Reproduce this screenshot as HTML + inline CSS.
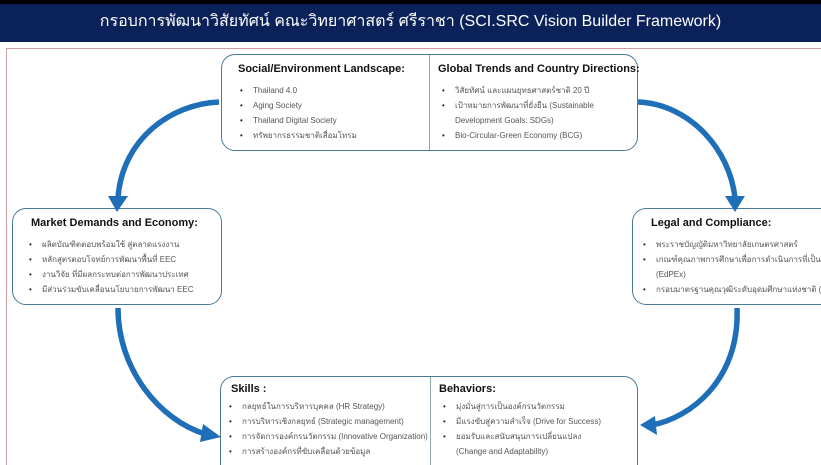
<!DOCTYPE html>
<html><head><meta charset="utf-8"><style>
*{margin:0;padding:0;box-sizing:border-box}
html,body{width:821px;height:465px;overflow:hidden}
body{background:#fff;position:relative;font-family:"Liberation Sans","DejaVu Sans",sans-serif;color:#333}
.top{position:absolute;left:0;top:0;width:821px;height:4px;background:#000}
.hdr{position:absolute;left:0;top:4px;width:821px;height:38px;background:#0b2159;color:#fff;font-size:16px;text-align:center;line-height:36px}
.frame{position:absolute;left:6px;top:48px;width:815px;height:417px;border:1px solid #c9a0a0;border-bottom:none;border-right:none}
.box{position:absolute;border:1.5px solid #4a7a9a;border-radius:14px;background:#fff}
.h{font-weight:bold;font-size:11px;color:#111;position:absolute;white-space:nowrap}
ul{position:absolute;list-style:none;font-size:8px;color:#555;line-height:15px;white-space:nowrap}
li:before{content:"•";color:#222;display:inline-block;width:13px}
li.c:before{content:"";width:13px}
.div{position:absolute;top:0;bottom:0;width:1px;background:#8aa}
svg{position:absolute;left:0;top:0}
</style></head><body>
<div class="top"></div>
<div class="hdr">กรอบการพัฒนาวิสัยทัศน์ คณะวิทยาศาสตร์ ศรีราชา (SCI.SRC Vision Builder Framework)</div>
<div class="frame"></div>

<div class="box" style="left:221px;top:54px;width:417px;height:97px">
 <div class="div" style="left:207px"></div>
 <div class="h" style="left:16px;top:8px">Social/Environment Landscape:</div>
 <ul style="left:18px;top:28px"><li>Thailand 4.0</li><li>Aging Society</li><li>Thailand Digital Society</li><li>ทรัพยากรธรรมชาติเสื่อมโทรม</li></ul>
 <div class="h" style="left:216px;top:8px">Global Trends and Country Directions:</div>
 <ul style="left:220px;top:28px"><li>วิสัยทัศน์ และแผนยุทธศาสตร์ชาติ 20 ปี</li><li>เป้าหมายการพัฒนาที่ยั่งยืน (Sustainable</li><li class="c">Development Goals: SDGs)</li><li>Bio-Circular-Green Economy (BCG)</li></ul>
</div>

<div class="box" style="left:12px;top:208px;width:210px;height:97px">
 <div class="h" style="left:18px;top:8px">Market Demands and Economy:</div>
 <ul style="left:16px;top:28px"><li>ผลิตบัณฑิตตอบพร้อมใช้ สู่ตลาดแรงงาน</li><li>หลักสูตรตอบโจทย์การพัฒนาพื้นที่ EEC</li><li>งานวิจัย ที่มีผลกระทบต่อการพัฒนาประเทศ</li><li>มีส่วนร่วมขับเคลื่อนนโยบายการพัฒนา EEC</li></ul>
</div>

<div class="box" style="left:632px;top:208px;width:189px;height:97px;border-right:none;border-radius:14px 0 0 14px;overflow:hidden">
 <div class="h" style="left:18px;top:8px">Legal and Compliance:</div>
 <ul style="left:10px;top:28px"><li>พระราชบัญญัติมหาวิทยาลัยเกษตรศาสตร์</li><li>เกณฑ์คุณภาพการศึกษาเพื่อการดำเนินการที่เป็นเลิศ</li><li class="c">(EdPEx)</li><li>กรอบมาตรฐานคุณวุฒิระดับอุดมศึกษาแห่งชาติ (TQF)</li></ul>
</div>

<div class="box" style="left:220px;top:376px;width:418px;height:89px;border-bottom:none;border-radius:14px 14px 0 0;overflow:hidden">
 <div class="div" style="left:209px"></div>
 <div class="h" style="left:10px;top:6px">Skills :</div>
 <ul style="left:8px;top:22px"><li>กลยุทธ์ในการบริหารบุคคล (HR Strategy)</li><li>การบริหารเชิงกลยุทธ์ (Strategic management)</li><li>การจัดการองค์กรนวัตกรรม (Innovative Organization)</li><li>การสร้างองค์กรที่ขับเคลื่อนด้วยข้อมูล</li></ul>
 <div class="h" style="left:218px;top:6px">Behaviors:</div>
 <ul style="left:222px;top:22px"><li>มุ่งมั่นสู่การเป็นองค์กรนวัตกรรม</li><li>มีแรงขับสู่ความสำเร็จ (Drive for Success)</li><li>ยอมรับและสนับสนุนการเปลี่ยนแปลง</li><li class="c">(Change and Adaptability)</li></ul>
</div>

<svg width="821" height="465" viewBox="0 0 821 465">
 <g fill="none" stroke="#1f6fb8" stroke-width="5.5">
  <path d="M219,102 C170,104 122,140 118,198"/>
  <path d="M638,102 C690,104 730,150 735,198"/>
  <path d="M118,308 C118,370 160,420 205,434"/>
  <path d="M737,308 C740,380 690,418 652,425"/>
 </g>
 <g fill="#1f6fb8">
  <polygon points="108,196 128,196 117,212"/>
  <polygon points="725,196 745,196 735,212"/>
  <polygon points="203,424 221,437 200,442"/>
  <polygon points="655,416 640,425 657,435"/>
 </g>
</svg>
</body></html>
